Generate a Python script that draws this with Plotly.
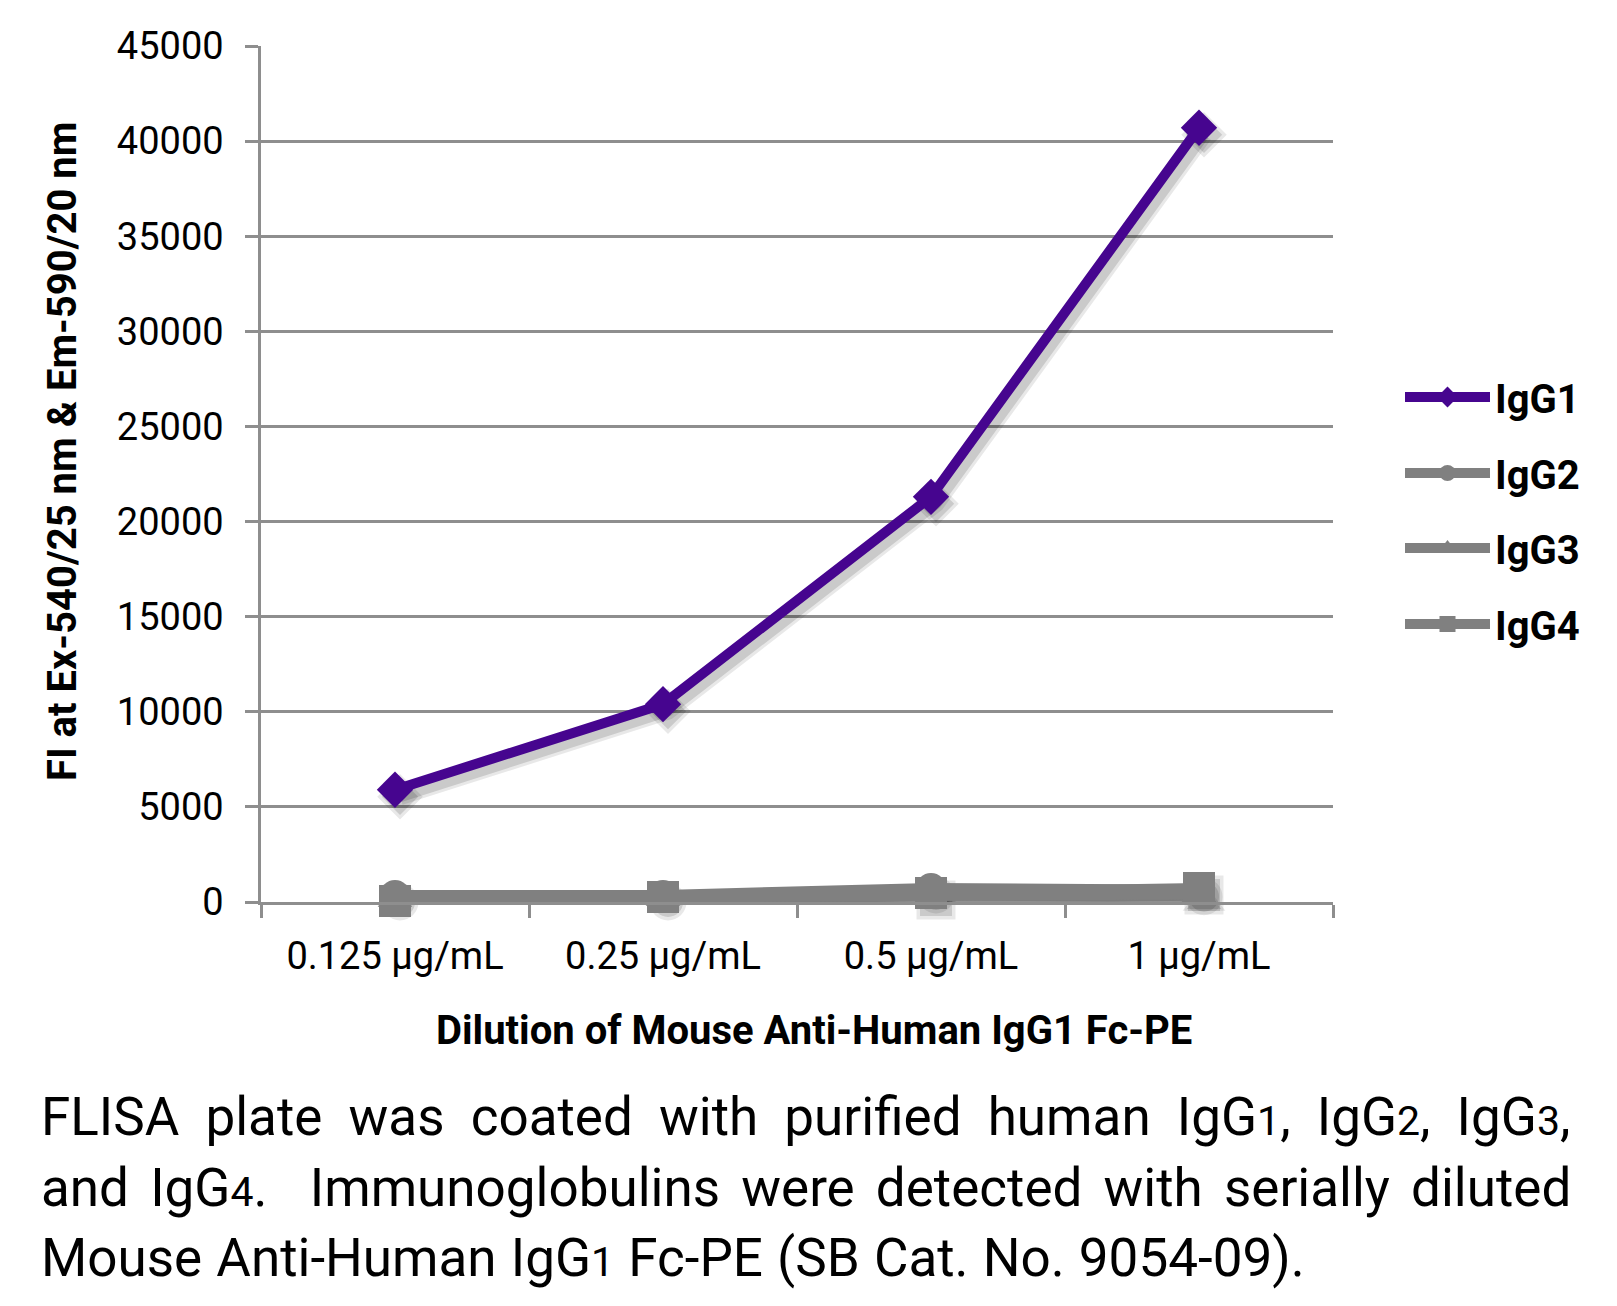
import plotly.graph_objects as go

# ---- data ----
categories = ["0.125 µg/mL", "0.25 µg/mL", "0.5 µg/mL", "1 µg/mL"]
igg1 = [5900, 10400, 21300, 40700]
igg2 = [370, 370, 740, 650]
igg3 = [150, 200, 250, 400]
igg4 = [50, 260, 470, 740]
series_names = ["IgG1", "IgG2", "IgG3", "IgG4"]
y_ticks = [0, 5000, 10000, 15000, 20000, 25000, 30000, 35000, 40000, 45000]

# ---- layout geometry (page pixels; the page body has an 8px margin) ----
OFF = 8
W, H = 1617 - 2 * OFF, 1306 - 2 * OFF
PL, PR, PT, PB = 261, 1333, 46, 902          # page coordinates of plot area
PW, PH = PR - PL, PB - PT
YMAX = 45000
FONT = "Roboto"

def fx(p):
    return (p - PL) / PW

def fy(p):
    return (PB - p) / PH

PURPLE = "#46058f"
GRAY = "#808080"
GRID = "#8e8e8e"

styles = [
    dict(color=PURPLE, symbol="diamond", size=28),
    dict(color=GRAY, symbol="circle", size=30),
    dict(color=GRAY, symbol="triangle-up", size=30),
    dict(color=GRAY, symbol="square", size=32),
]
values = [igg1, igg2, igg3, igg4]

fig = go.Figure()

# invisible trace on base axes to establish categories
fig.add_trace(go.Scatter(x=categories, y=igg1, mode="lines", opacity=0,
                         showlegend=False, hoverinfo="skip", xaxis="x", yaxis="y"))

# shadow traces (offset overlay axes)
for name, vals, st in zip(series_names, values, styles):
    fig.add_trace(go.Scatter(
        x=categories, y=vals, mode="lines+markers", showlegend=False, hoverinfo="skip",
        line=dict(color="rgba(0,0,0,0.09)", width=17),
        marker=dict(symbol=st["symbol"], size=st["size"] + 7, color="rgba(0,0,0,0.09)"),
        cliponaxis=False, xaxis="x2", yaxis="y2"))
    fig.add_trace(go.Scatter(
        x=categories, y=vals, mode="lines+markers", showlegend=False, hoverinfo="skip",
        line=dict(color="rgba(0,0,0,0.13)", width=11),
        marker=dict(symbol=st["symbol"], size=st["size"], color="rgba(0,0,0,0.13)"),
        cliponaxis=False, xaxis="x2", yaxis="y2"))

# main traces
legend_ids = ["legend", "legend2", "legend3", "legend4"]
for name, vals, st, lg in zip(series_names, values, styles, legend_ids):
    fig.add_trace(go.Scatter(
        x=categories, y=vals, mode="lines+markers", name=name,
        line=dict(color=st["color"], width=10),
        marker=dict(symbol=st["symbol"], size=st["size"], color=st["color"]),
        cliponaxis=False, xaxis="x3", yaxis="y3", legend=lg))

# shadow offsets
dx_px, dy_px = 5, 7
ex = dx_px / (PW / 4.0)
ey = dy_px * YMAX / PH

base_x = dict(type="category", categoryorder="array", categoryarray=categories,
              range=[-0.5, 3.5], automargin=False)
fig.update_layout(
    xaxis=dict(**base_x, showline=True, linecolor=GRID, linewidth=2.5,
               ticks="outside", ticklen=13, tickcolor=GRID, tickwidth=2.5,
               tickson="boundaries", showgrid=False, zeroline=False,
               tickfont=dict(family=FONT, size=38, color="black"),
               ticklabelstandoff=19),
    yaxis=dict(range=[0, YMAX], tickvals=y_ticks, tickformat="d", automargin=False,
               showline=True, linecolor=GRID, linewidth=2.5,
               ticks="outside", ticklen=13, tickcolor=GRID, tickwidth=2.5,
               showgrid=True, gridcolor=GRID, gridwidth=2.5, zeroline=False,
               tickfont=dict(family=FONT, size=38, color="black"),
               ticklabelstandoff=14),
    xaxis2=dict(type="category", categoryorder="array", categoryarray=categories,
                range=[-0.5 - ex, 3.5 - ex], overlaying="x", visible=False),
    yaxis2=dict(range=[ey, YMAX + ey], overlaying="y", visible=False),
    xaxis3=dict(**base_x, overlaying="x", visible=False),
    yaxis3=dict(range=[0, YMAX], overlaying="y", visible=False),
)

# legends
leg_centers = [397, 473, 548, 624]
for lg, cy in zip(legend_ids, leg_centers):
    fig.update_layout({lg: dict(x=fx(1400), y=fy(cy), xanchor="left", yanchor="middle",
                                bgcolor="rgba(0,0,0,0)", borderwidth=0, itemwidth=85,
                                font=dict(family=FONT, size=40, color="black", weight="bold"))})

# axis titles
fig.add_annotation(text="<b>Dilution of Mouse Anti-Human IgG1 Fc-PE</b>",
                   x=fx(814), y=fy(1030), xref="paper", yref="paper",
                   xanchor="center", yanchor="middle", showarrow=False,
                   font=dict(family=FONT, size=40, color="black"))
fig.add_annotation(text="<b>FI at Ex-540/25 nm & Em-590/20 nm</b>",
                   x=fx(62), y=fy(452), xref="paper", yref="paper", textangle=-90,
                   xanchor="center", yanchor="middle", showarrow=False,
                   font=dict(family=FONT, size=40, color="black"))

# caption
sub = '<span style="font-size:41px">{}</span>'
caption_lines = [
    "FLISA plate was coated with purified human IgG" + sub.format("1") + ", IgG" + sub.format("2") + ", IgG" + sub.format("3") + ",",
    "and IgG" + sub.format("4") + ".  Immunoglobulins were detected with serially diluted",
    "Mouse Anti-Human IgG" + sub.format("1") + " Fc-PE (SB Cat. No. 9054-09).",
]
word_spacing = [13, 8, 1]
for line, cy, ws in zip(caption_lines, [1117, 1188, 1258], word_spacing):
    txt = '<span style="word-spacing:{}px">{}</span>'.format(ws, line)
    fig.add_annotation(text=txt, x=fx(39), y=fy(cy), xref="paper", yref="paper",
                       xanchor="left", yanchor="middle", showarrow=False,
                       font=dict(family=FONT, size=53, color="black"))

fig.update_layout(
    width=W, height=H,
    margin=dict(l=PL - OFF, r=W - (PR - OFF), t=PT - OFF, b=H - (PB - OFF)),
    paper_bgcolor="white", plot_bgcolor="white",
    font=dict(family=FONT, color="black"),
)

fig.write_html("out.html")
